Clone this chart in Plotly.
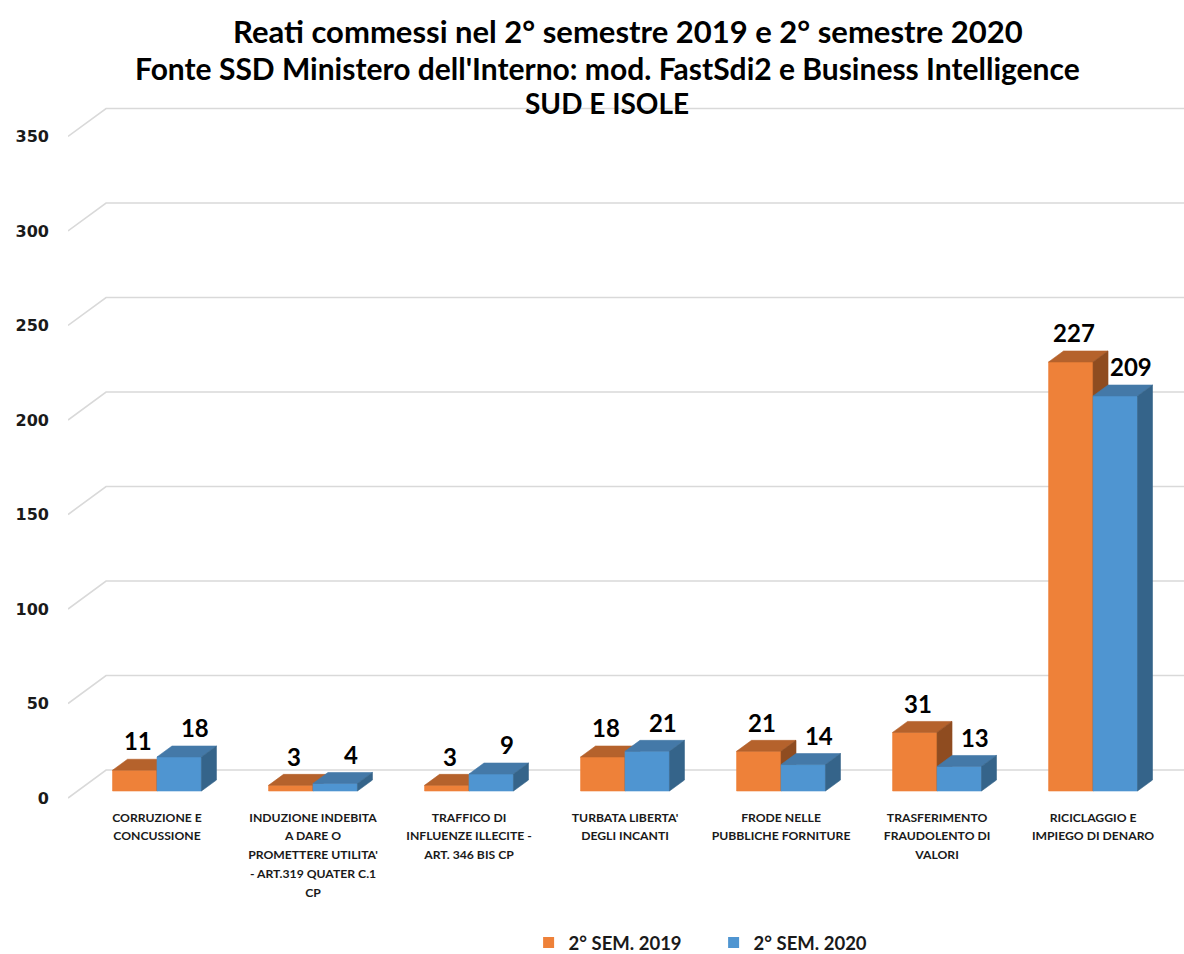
import plotly.graph_objects as go

# --- data -------------------------------------------------------------
categories = [
    ["CORRUZIONE E", "CONCUSSIONE"],
    ["INDUZIONE INDEBITA", "A DARE O", "PROMETTERE UTILITA'", "- ART.319 QUATER C.1", "CP"],
    ["TRAFFICO DI", "INFLUENZE ILLECITE -", "ART. 346 BIS CP"],
    ["TURBATA LIBERTA'", "DEGLI INCANTI"],
    ["FRODE NELLE", "PUBBLICHE FORNITURE"],
    ["TRASFERIMENTO", "FRAUDOLENTO DI", "VALORI"],
    ["RICICLAGGIO E", "IMPIEGO DI DENARO"],
]
sem_2019 = [11, 3, 3, 18, 21, 31, 227]
sem_2020 = [18, 4, 9, 21, 14, 13, 209]
series_names = ["2° SEM. 2019", "2° SEM. 2020"]
y_ticks = [0, 50, 100, 150, 200, 250, 300, 350]

title_lines = [
    "Reati commessi nel 2° semestre 2019 e 2° semestre 2020",
    "Fonte SSD Ministero dell'Interno: mod. FastSdi2 e Business Intelligence",
    "SUD E ISOLE",
]

# --- styling / pseudo-3D geometry (axis units) -------------------------
FRONT = ["#EE8139", "#4F95D1"]
TOP = ["#B5622C", "#4479A8"]
SIDE = ["#8F4C20", "#35648A"]
GRID = "#D9D9D9"

X_RANGE = [-0.5705, 6.583]
Y_RANGE = [-4.76, 365.6]
BAR_W = 0.285          # width of one front face
BAR_DX, BAR_DY = 0.096, 5.8   # depth of each column
WALL_DX = 0.244        # depth of the side wall
WALL_FRONT = -3.7      # front edge of the wall relative to the bar plane
WALL_BACK = 11.1       # back wall relative to the bar plane
LABEL_DX = [0.02, 0.10]  # horizontal nudge of the value labels per series

FONT = "Lato"

fig = go.Figure()

# wall gridlines: diagonal on the left wall, then across the back wall
gx, gy = [], []
for t in y_ticks:
    gx += [X_RANGE[0], X_RANGE[0] + WALL_DX, X_RANGE[1], None]
    gy += [t + WALL_FRONT, t + WALL_BACK, t + WALL_BACK, None]
fig.add_trace(go.Scatter(x=gx, y=gy, mode="lines", line=dict(color=GRID, width=1.6),
                         hoverinfo="skip", showlegend=False))


def faces(values, offset):
    fx, fy, tx, ty, sx, sy = [], [], [], [], [], []
    for i, v in enumerate(values):
        x0 = i + offset
        x1 = x0 + BAR_W
        fx += [x0, x1, x1, x0, x0, None]
        fy += [0, 0, v, v, 0, None]
        tx += [x0, x1, x1 + BAR_DX, x0 + BAR_DX, x0, None]
        ty += [v, v, v + BAR_DY, v + BAR_DY, v, None]
        sx += [x1, x1 + BAR_DX, x1 + BAR_DX, x1, x1, None]
        sy += [0, BAR_DY, v + BAR_DY, v, 0, None]
    return (fx, fy), (tx, ty), (sx, sy)


series = [(sem_2019, -BAR_W), (sem_2020, 0.0)]

for k, (vals, off) in enumerate(series):
    front, top, side = faces(vals, off)
    for (px, py), col in [(front, FRONT[k]), (top, TOP[k]), (side, SIDE[k])]:
        fig.add_trace(go.Scatter(x=px, y=py, mode="lines", fill="toself", fillcolor=col,
                                 line=dict(color=col, width=0.6), hoverinfo="skip",
                                 showlegend=False))

# value labels
for k, (vals, off) in enumerate(series):
    fig.add_trace(go.Scatter(
        x=[i + off + BAR_W / 2 + LABEL_DX[k] for i in range(len(vals))],
        y=[v + BAR_DY + 1.5 for v in vals],
        mode="text", text=[str(v) for v in vals], textposition="top center",
        textfont=dict(family=FONT, size=24, color="#000000", weight="bold"),
        hoverinfo="skip", showlegend=False))

# legend swatches
for k, name in enumerate(series_names):
    fig.add_trace(go.Scatter(x=[None], y=[None], mode="markers", name=name,
                             marker=dict(symbol="square", size=11, color=FRONT[k])))

# category labels: larger base font gives the wider line spacing
tick_text = ["<br>".join(f"<span style='font-size:12.2px'>{ln}</span>" for ln in lines)
             for lines in categories]

for txt, ypx, size, xc in zip(title_lines, [31, 68, 103], [31, 30, 28], [0.502, 0.483, 0.483]):
    fig.add_annotation(text=txt, xref="paper", yref="paper", x=xc, y=(800 - ypx) / 700,
                       xanchor="center", yanchor="middle", showarrow=False,
                       font=dict(family=FONT, size=size, color="#000000", weight="bold"))

fig.update_layout(
    width=1184, height=954,
    margin=dict(l=68, r=0, t=100, b=154),
    paper_bgcolor="white", plot_bgcolor="white",
    xaxis=dict(range=X_RANGE, showgrid=False, zeroline=False, showline=False,
               automargin=False,
               tickmode="array", tickvals=list(range(len(categories))), ticktext=tick_text,
               tickangle=0, ticks="", ticklabelstandoff=6,
               tickfont=dict(family=FONT, size=14.5, color="#1a1a1a", weight="bold")),
    yaxis=dict(range=Y_RANGE, showgrid=False, zeroline=False, showline=False,
               automargin=False,
               tickmode="array", tickvals=[t + WALL_FRONT for t in y_ticks],
               ticktext=[str(t) for t in y_ticks], ticks="", ticklabelstandoff=18,
               tickfont=dict(family="DejaVu Sans", size=16, color="#1a1a1a", weight="bold")),
    legend=dict(orientation="h", x=0.5785, xanchor="center",
                yref="container", y=(954 - 943) / 954, yanchor="middle",
                itemwidth=30, entrywidth=140,
                font=dict(family=FONT, size=18.5, color="#1a1a1a", weight="bold"),
                bgcolor="rgba(0,0,0,0)"),
    showlegend=True,
)

fig.write_html("out.html")
